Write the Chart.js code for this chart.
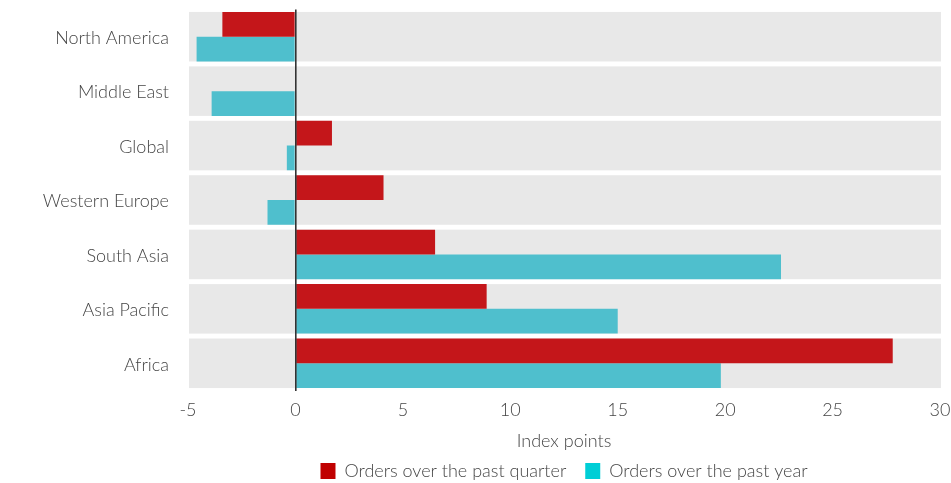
<!DOCTYPE html>
<html>
<head>
<meta charset="utf-8">
<script src="https://cdn.jsdelivr.net/npm/chart.js@4.4.1/dist/chart.umd.min.js"></script>
<style>
    body { margin: 0; background: #fff; }
    #wrap { width: 951px; height: 483px; position: relative; }
</style>
</head>
<body>
<div id="wrap"><canvas id="ordersChart"></canvas></div>
<script>
const regions = ["North America", "Middle East", "Global", "Western Europe", "South Asia", "Asia Pacific", "Africa"];
const pastQuarter = [-3.4, 0, 1.7, 4.1, 6.5, 8.9, 27.8];
const pastYear = [-4.6, -3.9, -0.4, -1.3, 22.6, 15.0, 19.8];
const xTicks = [-5, 0, 5, 10, 15, 20, 25, 30];

const textColor = "#454545";
const labelFont = { family: "Lato, 'Open Sans', sans-serif", size: 18, weight: 300 };

// grey band behind each region row
const rowBands = {
    id: "rowBands",
    beforeDatasetsDraw(chart) {
        const { ctx, chartArea, scales } = chart;
        const y = scales.y;
        const step = (y.bottom - y.top) / regions.length;
        const h = step * 0.91;
        ctx.save();
        ctx.fillStyle = "#e8e8e8";
        regions.forEach((r, i) => {
            const c = y.getPixelForValue(i);
            ctx.fillRect(chartArea.left + 1, c - h / 2, chartArea.right - chartArea.left, h);
        });
        ctx.restore();
    }
};

new Chart("ordersChart", {
    type: "bar",
    data: {
        labels: regions,
        datasets: [{
            label: "Orders over the past quarter",
            data: pastQuarter,
            backgroundColor: "#c4161a",
            legendColor: "#c00000"
        }, {
            label: "Orders over the past year",
            data: pastYear,
            backgroundColor: "#4fbfcd",
            legendColor: "#00ced6"
        }]
    },
    options: {
        indexAxis: "y",
        responsive: true,
        maintainAspectRatio: false,
        animation: false,
        datasets: {
            bar: { categoryPercentage: 0.91, barPercentage: 1.0 }
        },
        layout: { padding: { top: 9.5, right: 11, bottom: 0, left: 0 } },
        scales: {
            x: {
                min: -5,
                max: 30,
                afterBuildTicks(scale) {
                    scale.ticks = xTicks.map(v => ({ value: v }));
                },
                afterFit(scale) {
                    scale.height = 52.5;
                    scale.paddingLeft = 0;
                    scale.paddingRight = 0;
                },
                grid: {
                    z: 1,
                    drawTicks: false,
                    lineWidth: 1.6,
                    color: ctx => ctx.tick && ctx.tick.value === 0 ? "#333" : "transparent"
                },
                border: { display: false },
                ticks: {
                    padding: 9,
                    color: textColor,
                    font: labelFont
                },
                title: {
                    display: true,
                    text: "Index points",
                    color: textColor,
                    font: labelFont,
                    padding: { top: 0, bottom: -9 }
                }
            },
            y: {
                afterFit(scale) {
                    scale.width = 188;
                    scale.paddingTop = 0;
                    scale.paddingBottom = 0;
                },
                grid: { display: false, drawTicks: false },
                border: { display: false },
                ticks: {
                    padding: 19,
                    labelOffset: 1.5,
                    color: textColor,
                    font: labelFont
                }
            }
        },
        plugins: {
            legend: {
                position: "bottom",
                fullSize: false,
                maxHeight: 40,
                labels: {
                    boxWidth: 15,
                    boxHeight: 16,
                    padding: 19,
                    color: textColor,
                    font: labelFont,
                    generateLabels(chart) {
                        return chart.data.datasets.map((ds, i) => ({
                            text: ds.label,
                            fillStyle: ds.legendColor,
                            strokeStyle: ds.legendColor,
                            lineWidth: 0,
                            fontColor: textColor,
                            datasetIndex: i,
                            hidden: !chart.isDatasetVisible(i)
                        }));
                    }
                },
                onClick() {}
            },
            tooltip: { enabled: false }
        }
    },
    plugins: [rowBands]
});
</script>
</body>
</html>
